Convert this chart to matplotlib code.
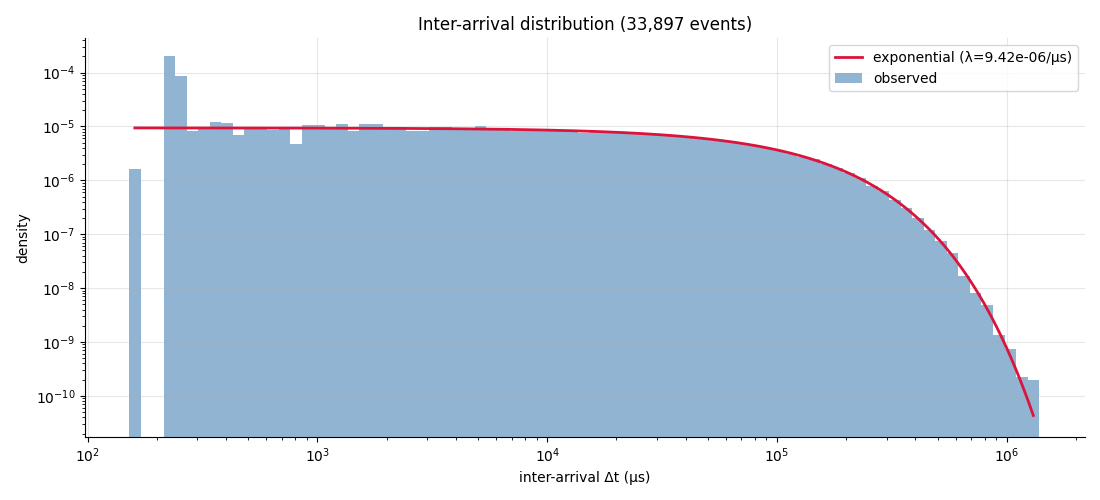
import numpy as np
import matplotlib
matplotlib.use("Agg")
import matplotlib.pyplot as plt

# ---- data ----
n_events = 33897
lam = 9.42e-06            # fitted rate, 1/us
dt_min = 151.6            # smallest inter-arrival (us)
dt_max = 1.382e6          # largest inter-arrival (us)
n_bins = 79

density = [
    1.6e-6, 0.0, 0.0, 2.04e-4, 8.65e-5, 8.3e-6, 9.6e-6, 1.2e-5, 1.15e-5, 6.9e-6,
    9.6e-6, 9.6e-6, 8.6e-6, 9.5e-6, 4.7e-6, 1.05e-5, 1.05e-5, 9.7e-6, 1.1e-5, 8.3e-6,
    1.1e-5, 1.1e-5, 9.9e-6, 9.5e-6, 8.3e-6, 8.3e-6, 9.9e-6, 9.9e-6, 8.8e-6, 8.8e-6,
    1.0e-5, 8.9e-6, 8.85e-6, 8.2e-6, 8.7e-6, 8.6e-6, 8.55e-6, 8.4e-6, 8.3e-6, 7.7e-6,
    8.05e-6, 7.9e-6, 7.75e-6, 7.55e-6, 7.4e-6, 7.15e-6, 6.9e-6, 6.65e-6, 6.4e-6, 6.1e-6,
    5.8e-6, 5.45e-6, 5.1e-6, 4.75e-6, 4.35e-6, 3.95e-6, 3.55e-6, 3.15e-6, 2.75e-6, 2.45e-6,
    2.05e-6, 1.67e-6, 1.35e-6, 1.1e-6, 7.9e-7, 6.4e-7, 4.3e-7, 3.07e-7, 2.0e-7, 1.2e-7,
    7.5e-8, 4.5e-8, 1.71e-8, 8.3e-9, 4.9e-9, 1.36e-9, 7.5e-10, 2.2e-10, 2.0e-10,
]

# ---- figure ----
fig = plt.figure(figsize=(11, 5), dpi=100)
ax = fig.add_axes([0.0773, 0.1266, 0.9091, 0.797])

edges = np.logspace(np.log10(dt_min), np.log10(dt_max), n_bins + 1)
centers = np.sqrt(edges[:-1] * edges[1:])

xs = np.logspace(np.log10(centers[0]), np.log10(centers[-1]), 400)
ax.plot(xs, lam * np.exp(-lam * xs), color="crimson", lw=2,
        label="exponential (λ=9.42e-06/μs)", zorder=3)

ax.hist(centers, bins=edges, weights=density, color="steelblue", alpha=0.6,
        label="observed", zorder=1)

ax.set_xscale("log")
ax.set_yscale("log")
ax.set_xlim(97.5, 2.19e6)
ax.set_ylim(1.75e-11, 4.35e-4)

ax.grid(True, which="major", alpha=0.3)
ax.spines["top"].set_visible(False)
ax.spines["right"].set_visible(False)

ax.set_title(f"Inter-arrival distribution ({n_events:,} events)", fontsize=12)
ax.set_xlabel("inter-arrival Δt (μs)")
ax.set_ylabel("density")
ax.legend(loc="upper right", fontsize=10)

fig.savefig("out.png", dpi=100)
